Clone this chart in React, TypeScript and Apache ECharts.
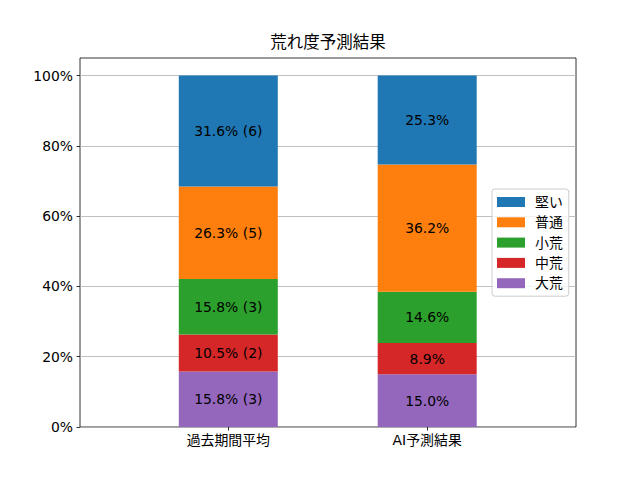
import React, { useEffect, useRef } from "react";
import * as echarts from "echarts";

const categories = ["過去期間平均", "AI予測結果"];
const seriesNames = ["大荒", "中荒", "小荒", "普通", "堅い"];
const pastPct = [15.8, 10.5, 15.8, 26.3, 31.6];
const pastCount = [3, 2, 3, 5, 6];
const aiPct = [15.0, 8.9, 14.6, 36.2, 25.3];
const yTicks = [0, 20, 40, 60, 80, 100];
const titleText = "荒れ度予測結果";

const colors = ["#9467bd", "#d62728", "#2ca02c", "#ff7f0e", "#1f77b4"];
const FONT = "'DejaVu Sans', 'Noto Sans CJK JP', sans-serif";
const FS = 13.9;

export default function App() {
  const ref = useRef<HTMLDivElement>(null);
  useEffect(() => {
    document.body.style.margin = "0";
    document.body.style.overflow = "hidden";
    if (!ref.current) return;
    const chart = echarts.init(ref.current, null, { renderer: "svg" });
    const plotLeft = 80, plotTop = 58, plotW = 496, plotH = 369;
    const barGridLeft = 128.85, barGridW = 397.8;
    const option: any = {
      animation: false,
      textStyle: { fontFamily: FONT, color: "#000" },
      grid: [
        { left: plotLeft, top: plotTop, width: plotW, height: plotH, show: true, borderColor: "#000", borderWidth: 0.8, backgroundColor: "transparent", z: 0 },
        { left: barGridLeft, top: plotTop, width: barGridW, height: plotH, show: false },
      ],
      xAxis: [
        { type: "category", gridIndex: 0, data: categories, show: false },
        {
          type: "category",
          gridIndex: 1,
          data: categories,
          axisLine: { show: false },
          axisTick: { show: true, alignWithLabel: true, length: 3.5, lineStyle: { color: "#000", width: 0.8 } },
          axisLabel: { color: "#000", fontSize: FS, fontFamily: FONT, margin: 6 },
        },
      ],
      yAxis: [
        {
          type: "value",
          gridIndex: 0,
          min: 0,
          max: 105,
          interval: 20,
          axisLine: { show: false },
          axisTick: { show: true, length: 3.5, lineStyle: { color: "#000", width: 0.8 }, customValues: yTicks },
          axisLabel: {
            color: "#000",
            fontSize: FS,
            fontFamily: FONT,
            margin: 7,
            customValues: yTicks,
            formatter: (v: number) => (v > 100 ? "" : `${v}%`),
          },
          splitLine: { show: true, lineStyle: { color: "#b0b0b0", width: 0.8 } },
        },
        { type: "value", gridIndex: 1, min: 0, max: 105, show: false, splitLine: { show: false } },
      ],
      legend: {
        orient: "vertical",
        left: 492,
        top: 189,
        data: [...seriesNames].reverse(),
        icon: "rect",
        itemWidth: 28,
        itemHeight: 10,
        itemGap: 6.3,
        padding: [6, 6, 6, 5],
        backgroundColor: "rgba(255,255,255,0.8)",
        borderColor: "#cccccc",
        borderWidth: 1,
        borderRadius: 3,
        textStyle: { color: "#000", fontSize: FS, fontFamily: FONT, lineHeight: 14, padding: [0, 0, 0, 5] },
      },
      series: seriesNames.map((name, i) => ({
        name,
        type: "bar",
        xAxisIndex: 1,
        yAxisIndex: 1,
        stack: "total",
        barWidth: 99,
        itemStyle: { color: colors[i] },
        z: 3,
        label: {
          show: true,
          position: "inside",
          color: "#000",
          fontSize: FS,
          fontFamily: FONT,
          formatter: (p: any) =>
            p.dataIndex === 0
              ? `${pastPct[i].toFixed(1)}% (${pastCount[i]})`
              : `${aiPct[i].toFixed(1)}%`,
        },
        data: [pastPct[i], aiPct[i]],
      })),
      graphic: [
        {
          type: "text",
          x: plotLeft + plotW / 2,
          y: 42,
          style: {
            text: titleText,
            fontSize: 16.5,
            fontFamily: FONT,
            fill: "#000",
            textAlign: "center",
            textVerticalAlign: "middle",
          },
        },
      ],
    };
    chart.setOption(option);
    return () => chart.dispose();
  }, []);
  return <div ref={ref} style={{ width: 640, height: 480 }} />;
}
